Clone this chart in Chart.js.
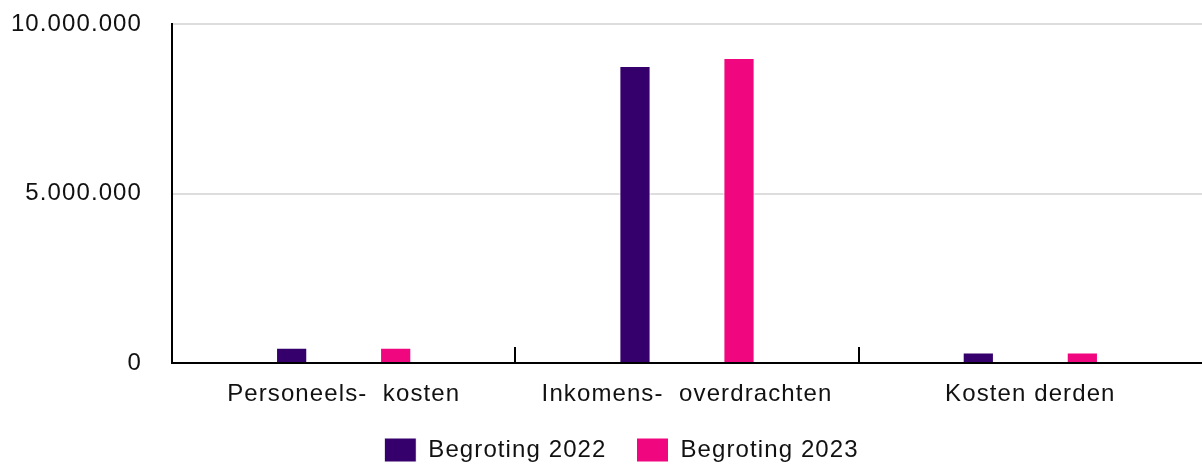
<!DOCTYPE html>
<html>
<head>
<meta charset="utf-8">
<script src="https://cdn.jsdelivr.net/npm/chart.js@4"></script>
<style>
  html, body { margin: 0; padding: 0; background: #fff; }
  #wrap { width: 1202px; height: 465px; }
</style>
</head>
<body>
<div id="wrap"><canvas id="begroting-chart"></canvas></div>
<script>
const categorieen = ['Personeels-  kosten', 'Inkomens-  overdrachten', 'Kosten derden'];
const begroting2022 = [450000, 8760000, 310000];
const begroting2023 = [450000, 9000000, 310000];
const yTicks = [0, 5000000, 10000000];

const ctx = document.getElementById('begroting-chart');

// canvas letter spacing, zoals in de tekst van het origineel
const spatiering = {
    id: 'spatiering',
    beforeUpdate(chart) { chart.ctx.letterSpacing = '1.1px'; },
    beforeDraw(chart) { chart.ctx.letterSpacing = '1.1px'; }
};

// legenda iets naar rechts, zoals in het origineel
const legendaVerschuiving = {
    id: 'legendaVerschuiving',
    afterLayout(chart) {
        chart.legend.left += 18;
        chart.legend.right += 18;
    }
};

// korte streepjes omhoog op de grenzen tussen de categorieen
const grensStreepjes = {
    id: 'grensStreepjes',
    afterDatasetsDraw(chart) {
        const x = chart.scales.x;
        const c = chart.ctx;
        c.save();
        c.strokeStyle = '#000';
        c.lineWidth = 2;
        for (let i = 0; i < categorieen.length - 1; i++) {
            const px = Math.round(x.getPixelForValue(i + 0.5));
            c.beginPath();
            c.moveTo(px, chart.chartArea.bottom);
            c.lineTo(px, chart.chartArea.bottom - 16);
            c.stroke();
        }
        c.restore();
    }
};

Chart.defaults.font.family = '"Liberation Sans", Arial, sans-serif';
Chart.defaults.font.size = 24;
Chart.defaults.color = '#111';

new Chart(ctx, {
    type: 'bar',
    data: {
        labels: categorieen,
        datasets: [{
            label: 'Begroting 2022',
            data: begroting2022,
            backgroundColor: '#36006c',
            borderColor: '#ffffff',
            borderWidth: 1
        }, {
            label: 'Begroting 2023',
            data: begroting2023,
            backgroundColor: '#f0067f',
            borderColor: '#ffffff',
            borderWidth: 1
        }]
    },
    options: {
        responsive: true,
        maintainAspectRatio: false,
        animation: false,
        categoryPercentage: 0.606,
        barPercentage: 0.3,
        layout: { padding: { top: 24, right: -5, left: 0, bottom: -7 } },
        plugins: {
            tooltip: { enabled: false },
            legend: {
                position: 'bottom',
                labels: {
                    boxWidth: 32,
                    boxHeight: 24,
                    padding: 30,
                    color: '#111',
                    font: { size: 24 }
                }
            }
        },
        scales: {
            x: {
                grid: { display: false, drawTicks: false },
                border: { color: '#000', width: 2 },
                ticks: { padding: 17, maxRotation: 0, autoSkip: false },
                afterFit(scale) { scale.height = 45; }
            },
            y: {
                min: 0,
                max: 10000000,
                afterBuildTicks(scale) { scale.ticks = yTicks.map(v => ({ value: v })); },
                grid: {
                    color: '#dddddd',
                    lineWidth: 2,
                    drawTicks: true,
                    tickLength: 30,
                    tickColor: 'rgba(0,0,0,0)'
                },
                border: { color: '#000', width: 2 },
                ticks: {
                    padding: 0,
                    callback: v => v.toLocaleString('nl-NL')
                },
                afterFit(scale) { scale.width = 172; }
            }
        }
    },
    plugins: [spatiering, legendaVerschuiving, grensStreepjes]
});
</script>
</body>
</html>
